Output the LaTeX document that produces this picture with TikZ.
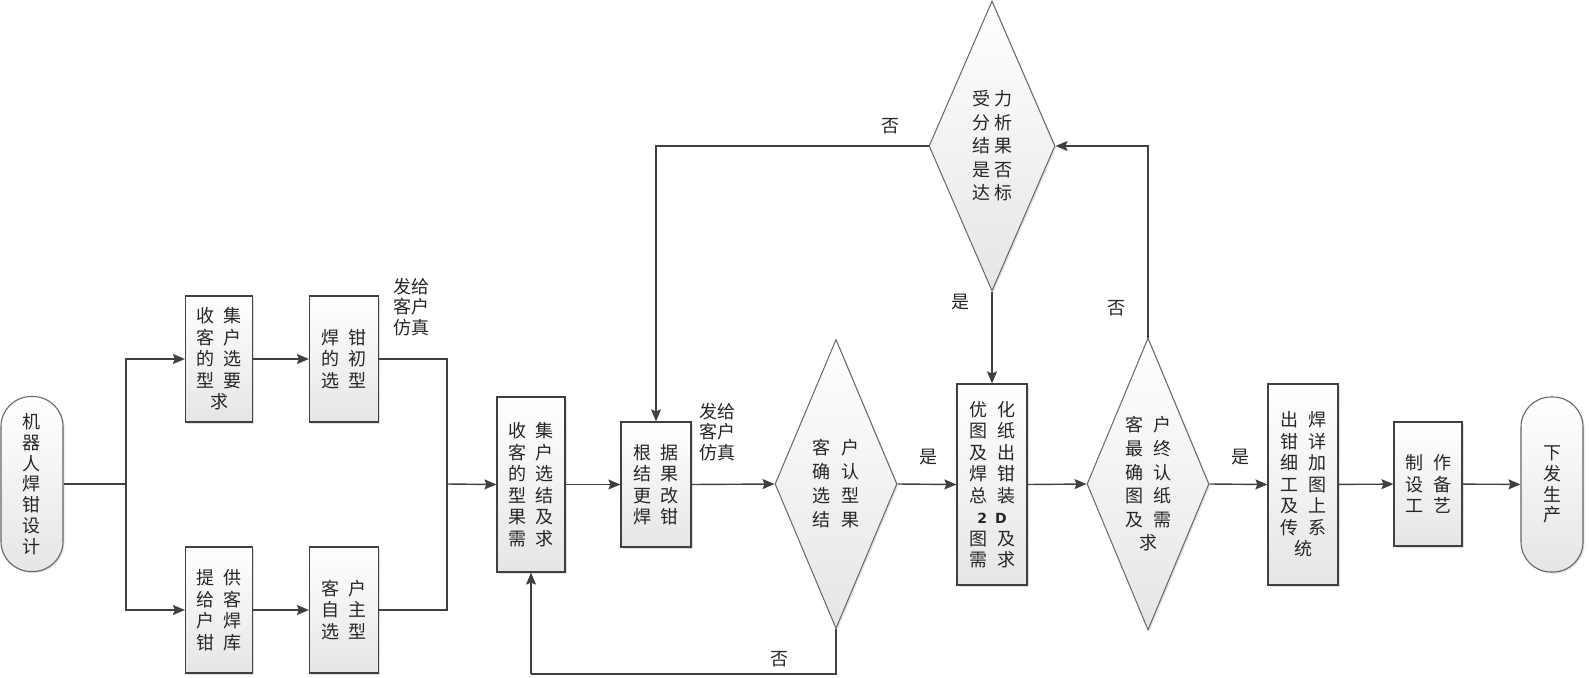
\documentclass[tikz,border=0pt]{standalone}
\usepackage{fontspec}
\setmainfont{Noto Sans CJK SC}
\newfontfamily\dvfont{DejaVu Sans}
\usetikzlibrary{shapes.geometric,arrows.meta,shadows}
\newcommand{\cg}{\hspace{10pt}}
\newcommand{\dg}{\hspace{11pt}}
\newcommand{\tg}{\hspace{4pt}}
\definecolor{linec}{HTML}{404040}
\definecolor{textc}{HTML}{262626}
\tikzset{
  shd/.style={drop shadow={shadow xshift=1.5pt,shadow yshift=-1.5pt,opacity=0.2,fill=black!60}},
  boxnode/.style={rectangle,draw=linec,line width=1.2pt,top color=white,bottom color=black!10,
    inner sep=0pt,align=center,text=textc,font=\fontsize{18}{21.5}\selectfont,shd},
  termnode/.style={rectangle,rounded corners=30pt,draw=black!60,line width=1.1pt,top color=white,bottom color=black!10,
    inner sep=0pt,align=center,text=textc,font=\fontsize{18}{20.8}\selectfont,
    minimum width=62pt,minimum height=175pt,shd},
  decnode/.style={diamond,draw=black!60,line width=1pt,top color=white,bottom color=black!10,
    inner sep=0pt,shd},
  dectext/.style={align=center,text=textc,inner sep=0pt,font=\fontsize{18}{24}\selectfont},
  line/.style={draw=linec,line width=1.4pt},
  arr/.style={line,-{Stealth[length=12pt,width=10pt,inset=2pt]}},
  lbl/.style={text=textc,inner sep=0pt,font=\fontsize{18}{20.6}\selectfont,align=center}
}
\begin{document}
\begin{tikzpicture}[x=1pt,y=-1pt]
\useasboundingbox (0,0) rectangle (1589,677);

% nodes
\node[termnode] (start) at (32,484) {机\\器\\人\\焊\\钳\\设\\计};
\node[boxnode,minimum width=67pt,minimum height=126pt] (b1) at (219,359) {收\cg 集\\客\cg 户\\的\cg 选\\型\cg 要\\求};
\node[boxnode,minimum width=69pt,minimum height=126pt] (b2) at (344,359) {焊\cg 钳\\的\cg 初\\选\cg 型};
\node[boxnode,minimum width=67pt,minimum height=126pt] (b3) at (219,610) {提\cg 供\\给\cg 客\\户\cg 焊\\钳\cg 库};
\node[boxnode,minimum width=69pt,minimum height=126pt] (b4) at (344,610) {客\cg 户\\自\cg 主\\选\cg 型};
\node[boxnode,minimum width=68pt,minimum height=175pt] (b5) at (531,484.5) {收\cg 集\\客\cg 户\\的\cg 选\\型\cg 结\\果\cg 及\\需\cg 求};
\node[boxnode,minimum width=70pt,minimum height=125pt] (b6) at (656,484.5) {根\cg 据\\结\cg 果\\更\cg 改\\焊\cg 钳};

\node[decnode,minimum width=122pt,minimum height=289pt] (d1) at (836,484) {};
\node[dectext] (d1t) at (d1.center) {客\dg 户\\确\dg 认\\选\dg 型\\结\dg 果};

\node[decnode,minimum width=126pt,minimum height=290pt] (d2) at (992,146) {};
\node[dectext,font=\fontsize{18}{23.5}\selectfont] (d2t) at (d2.center) {受\tg 力\\分\tg 析\\结\tg 果\\是\tg 否\\达\tg 标};

\node[boxnode,minimum width=70pt,minimum height=201pt] (b7) at (992,484.5) {优\cg 化\\图\cg 纸\\及\cg 出\\焊\cg 钳\\总\cg 装\\{\dvfont\bfseries\fontsize{14}{21.5}\selectfont 2\hspace{8pt}D}\\图\cg 及\\需\cg 求};

\node[decnode,minimum width=122pt,minimum height=292pt] (d3) at (1148,484) {};
\node[dectext,font=\fontsize{18}{23.6}\selectfont] (d3t) at (d3.center) {客\cg 户\\最\cg 终\\确\cg 认\\图\cg 纸\\及\cg 需\\求};

\node[boxnode,minimum width=70pt,minimum height=201pt] (b8) at (1303,484.5) {出\cg 焊\\钳\cg 详\\细\cg 加\\工\cg 图\\及\cg 上\\传\cg 系\\统};
\node[boxnode,minimum width=68pt,minimum height=124pt] (b9) at (1428,484) {制\cg 作\\设\cg 备\\工\cg 艺};
\node[termnode] (end) at (1552,484.5) {下\\发\\生\\产};

% helper coordinates
\coordinate (br1) at (126,484);
\coordinate (mg) at (447,484);
\coordinate (fb) at (531,674);

% connectors
\draw[line] (start.east) -- (br1);
\draw[arr] (br1) |- (b1.west);
\draw[arr] (br1) |- (b3.west);
\draw[arr] (b1) -- (b2);
\draw[arr] (b3) -- (b4);
\draw[line] (b2.east) -| (mg);
\draw[line] (b4.east) -| (mg);
\draw[arr] (mg) -- (b5.west);
\draw[arr] (b5) -- (b6);
\draw[arr] (b6.east) -- (d1.west);
\draw[arr] (d1.east) -- (b7.west);
\draw[line] (d1.south) |- (fb);
\draw[arr] (fb) -- (b5.south);
\draw[arr] (b7.east) -- (d3.west);
\draw[arr] (d3.east) -- (b8.west);
\draw[arr] (b8) -- (b9);
\draw[arr] (b9) -- (end);
\draw[arr] (d3.north) |- (d2.east);
\draw[arr] (d2.south) -- (b7.north);
\draw[arr] (d2.west) -| (b6.north);

% labels
\node[lbl] (l1) at (411,307) {发给\\客户\\仿真};
\node[lbl] (l2) at (717,432) {发给\\客户\\仿真};
\node[lbl] (l3) at (928,457) {是};
\node[lbl] (l4) at (1240,457) {是};
\node[lbl] (l5) at (960,302) {是};
\node[lbl] (l6) at (1116,308) {否};
\node[lbl] (l7) at (890,126) {否};
\node[lbl] (l8) at (779,659) {否};
\end{tikzpicture}
\end{document}
